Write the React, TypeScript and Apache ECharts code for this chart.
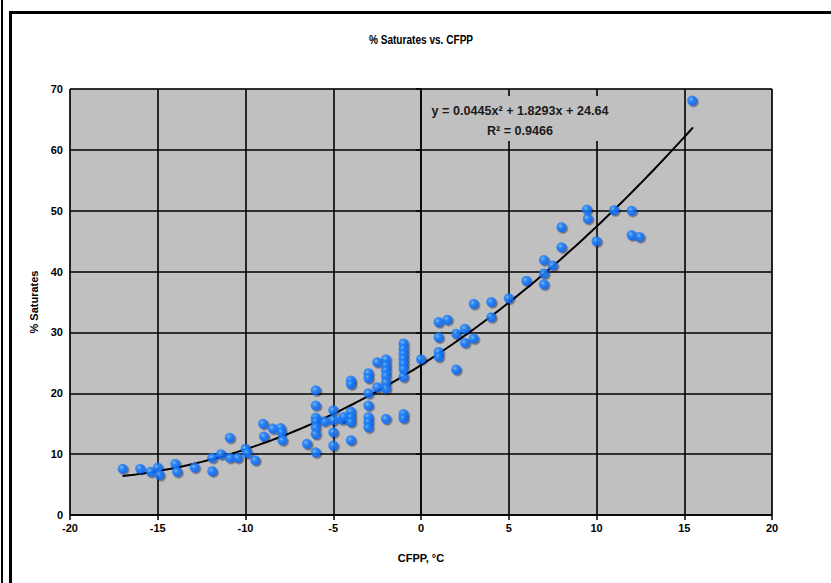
import React, { useEffect, useRef } from "react";
import * as echarts from "echarts";

// CFPP (°C) and % Saturates
const cfpp: number[] = [
  -17, -16, -15.4, -15, -14.9, -14, -13.9, -12.9, -11.9, -11.9, -11.4, -10.9, -10.9, -10.45, -10, -9.9, -9.45,
  -9, -8.95, -8.45, -8, -7.95, -7.9,
  -6.5, -6, -6, -6, -6, -6, -6, -6, -5.5,
  -5, -5, -5, -5, -4.5, -4.4,
  -4, -4, -4, -4, -4, -4,
  -3, -3, -3, -3, -3, -3, -3,
  -2.5, -2.5,
  -2, -2, -2, -2, -2, -2, -2,
  -1, -1, -1, -1, -1, -1, -1, -1, -1,
  0,
  1, 1, 1, 1, 1.5,
  2, 2, 2.5, 2.5, 3, 3,
  4, 4, 5, 6, 7, 7, 7, 7.5, 8, 8,
  9.45, 9.5, 10, 11, 12, 12, 12.45, 15.45,
];
const saturates: number[] = [
  7.6, 7.6, 7.1, 7.8, 6.6, 8.4, 7.1, 7.8, 7.2, 9.4, 10, 12.7, 9.4, 9.4, 10.9, 10.2, 9.0,
  15.0, 12.9, 14.2, 14.3, 13.6, 12.3,
  11.7, 20.5, 18.0, 16.0, 15.4, 14.4, 13.3, 10.3, 15.4,
  17.2, 15.6, 13.6, 11.4, 15.7, 16.1,
  22.1, 21.5, 17.0, 16.1, 15.3, 12.3,
  23.3, 22.5, 20.0, 18.0, 16.1, 15.3, 14.4,
  25.1, 21.0,
  25.6, 24.6, 23.8, 22.9, 21.8, 20.8, 15.8,
  28.2, 27.3, 26.5, 25.7, 24.9, 24.0, 22.7, 16.6, 15.9,
  25.6,
  31.7, 29.2, 26.8, 26.0, 32.1,
  29.8, 23.9, 30.6, 28.3, 29.0, 34.7,
  35.0, 32.5, 35.6, 38.5, 41.9, 39.7, 37.9, 41.0, 47.3, 44.0,
  50.2, 48.7, 45.0, 50.1, 50.0, 46.0, 45.7, 68.1,
];

// Trendline coefficients as printed on the chart
const trendA = 0.0445;
const trendB = 1.8293;
const trendC = 24.64;
const trendFrom = -17;
const trendTo = 15.5;

const xTicks = { min: -20, max: 20, interval: 5 };
const yTicks = { min: 0, max: 70, interval: 10 };

const titleText = "% Saturates vs. CFPP";
const xName = "CFPP, °C";
const yName = "% Saturates";
const eqLine1 = "y = 0.0445x² + 1.8293x + 24.64";
const eqLine2 = "R² = 0.9466";

const FONT = "'Liberation Sans Narrow', 'Arial Narrow', 'Liberation Sans', sans-serif";

export default function App() {
  const ref = useRef<HTMLDivElement>(null);
  useEffect(() => {
    if (!ref.current) return;
    const chart = echarts.init(ref.current, undefined, { renderer: "svg" });
    const pts = cfpp.map((x, i) => [x, saturates[i]]);
    const trend: number[][] = [];
    for (let x = trendFrom; x <= trendTo + 1e-9; x += 0.25) {
      trend.push([x, trendA * x * x + trendB * x + trendC]);
    }
    const narrowText = (text: string, x: number, y: number, size: number, sx: number, fill: string) => ({
      type: "text",
      x,
      y,
      scaleX: sx,
      z: 51,
      style: {
        text,
        align: "center",
        verticalAlign: "middle",
        fontFamily: FONT,
        fontSize: size,
        fontWeight: "bold",
        fill,
      },
    });
    chart.setOption({
      animation: false,
      backgroundColor: "#ffffff",
      grid: {
        left: 70,
        right: 59,
        top: 89,
        bottom: 68,
        show: true,
        backgroundColor: "#C0C0C0",
        borderColor: "#808080",
        borderWidth: 1,
      },
      xAxis: {
        type: "value",
        min: xTicks.min,
        max: xTicks.max,
        interval: xTicks.interval,
        name: xName,
        nameLocation: "middle",
        nameGap: 37,
        nameTextStyle: { fontFamily: FONT, fontSize: 11, fontWeight: "bold", color: "#000" },
        axisLine: { show: true, lineStyle: { color: "#000", width: 1.5 } },
        axisTick: { show: true, length: 5, lineStyle: { color: "#000", width: 1.5 } },
        axisLabel: { fontFamily: FONT, fontSize: 11, fontWeight: "bold", color: "#000", margin: 7 },
        splitLine: { show: true, lineStyle: { color: "#000", width: 1.6 } },
      },
      yAxis: {
        type: "value",
        min: yTicks.min,
        max: yTicks.max,
        interval: yTicks.interval,
        name: yName,
        nameLocation: "middle",
        nameGap: 30,
        nameRotate: 90,
        nameTextStyle: { fontFamily: FONT, fontSize: 11, fontWeight: "bold", color: "#000" },
        axisLine: { show: true, lineStyle: { color: "#000", width: 1.5 } },
        axisTick: { show: true, length: 5, lineStyle: { color: "#000", width: 1.5 } },
        axisLabel: { fontFamily: FONT, fontSize: 11, fontWeight: "bold", color: "#000", margin: 7 },
        splitLine: { show: true, lineStyle: { color: "#000", width: 1.6 } },
      },
      series: [
        {
          type: "line",
          data: trend,
          showSymbol: false,
          smooth: false,
          lineStyle: { color: "#000", width: 2 },
          z: 3,
          silent: true,
        },
        {
          type: "scatter",
          data: pts,
          symbol: "circle",
          symbolSize: 10,
          z: 4,
          itemStyle: {
            color: {
              type: "radial",
              x: 0.4,
              y: 0.38,
              r: 0.65,
              colorStops: [
                { offset: 0, color: "#7FC4FF" },
                { offset: 0.3, color: "#2288FF" },
                { offset: 1, color: "#0060FF" },
              ],
            },
            shadowColor: "rgba(0,0,30,0.55)",
            shadowBlur: 1.5,
            shadowOffsetX: 1.5,
            shadowOffsetY: 1.5,
          },
        },
      ],
      graphic: [
        { type: "rect", shape: { x: 1, y: 0, width: 2, height: 583 }, style: { fill: "#000" }, z: 100 },
        { type: "rect", shape: { x: 9, y: 11, width: 3, height: 572 }, style: { fill: "#000" }, z: 100 },
        { type: "rect", shape: { x: 9, y: 11, width: 822, height: 3 }, style: { fill: "#000" }, z: 100 },
        narrowText(titleText, 421, 40, 12, 0.84, "#000"),
        {
          type: "rect",
          shape: { x: 425, y: 96, width: 192, height: 45 },
          style: { fill: "#C0C0C0" },
          z: 50,
        },
        narrowText(eqLine1, 520, 110, 13, 0.97, "#1a1a1a"),
        narrowText(eqLine2, 520, 130, 13, 0.97, "#1a1a1a"),
      ],
    });
    return () => chart.dispose();
  }, []);
  return (
    <div
      ref={ref}
      style={{ position: "fixed", left: 0, top: 0, width: 831, height: 583 }}
    />
  );
}
